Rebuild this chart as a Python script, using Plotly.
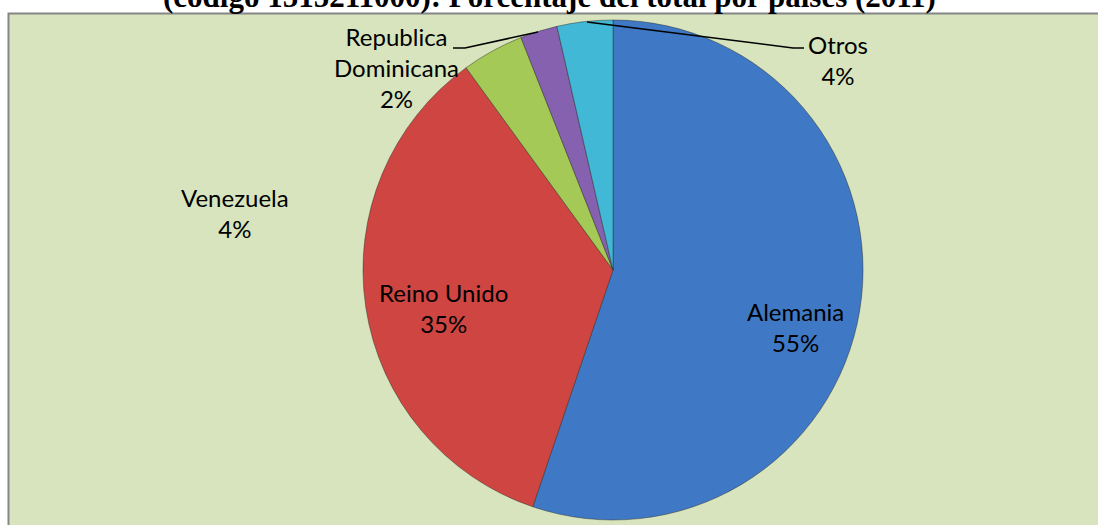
import plotly.graph_objects as go

W, H = 1098, 525

countries = ["Alemania", "Reino Unido", "Venezuela", "Republica<br>Dominicana", "Otros"]
shares = [55.2, 34.8, 4.0, 2.4, 3.6]
pct_labels = ["55%", "35%", "4%", "2%", "4%"]
colors = ["#3F78C4", "#CF4541", "#A5C956", "#8661B0", "#41B8D6"]

# label centres in pixels (x, y from top)
label_pos = [(795, 327), (443, 308), (235, 213), (396, 68), (838, 60)]

title = "(código 1515211000): Porcentaje del total por países (2011)"


def px(x):
    return x / W


def py(y):
    return 1 - y / H


fig = go.Figure()
fig.add_trace(go.Pie(
    labels=countries,
    values=shares,
    sort=False,
    direction="clockwise",
    rotation=0,
    textinfo="none",
    hoverinfo="label+percent",
    marker=dict(colors=colors, line=dict(color="rgba(40,40,40,0.45)", width=1)),
    domain=dict(x=[px(363), px(863)], y=[py(520), py(20)]),
    showlegend=False,
))

annotations = []
for name, pct, (x, y) in zip(countries, pct_labels, label_pos):
    annotations.append(dict(
        x=px(x), y=py(y), xref="paper", yref="paper",
        text=f"{name}<br>{pct}", showarrow=False,
        xanchor="center", yanchor="middle", align="center",
        font=dict(family="Lato", size=24, color="#000000"),
    ))
annotations.append(dict(
    x=px(549), y=py(-3), xref="paper", yref="paper",
    text=f"<b>{title}</b>", showarrow=False,
    xanchor="center", yanchor="middle",
    font=dict(family="Liberation Serif", size=31, color="#000000"),
))

shapes = [
    dict(type="rect", xref="paper", yref="paper", layer="below",
         x0=px(8.5), x1=px(1104), y0=py(532), y1=py(13.5),
         fillcolor="#D7E4BD", line=dict(color="#858585", width=2)),
    dict(type="path", xref="paper", yref="paper", layer="above",
         path=f"M {px(453)} {py(48)} L {px(465)} {py(48)} L {px(538)} {py(32)}",
         line=dict(color="#000000", width=1.5)),
    dict(type="path", xref="paper", yref="paper", layer="above",
         path=f"M {px(587)} {py(22)} L {px(793)} {py(48)} L {px(804)} {py(48)}",
         line=dict(color="#000000", width=1.5)),
]

fig.update_layout(
    width=W, height=H,
    margin=dict(l=0, r=0, t=0, b=0),
    paper_bgcolor="#FFFFFF",
    plot_bgcolor="#FFFFFF",
    annotations=annotations,
    shapes=shapes,
)

fig.write_html("out.html")
